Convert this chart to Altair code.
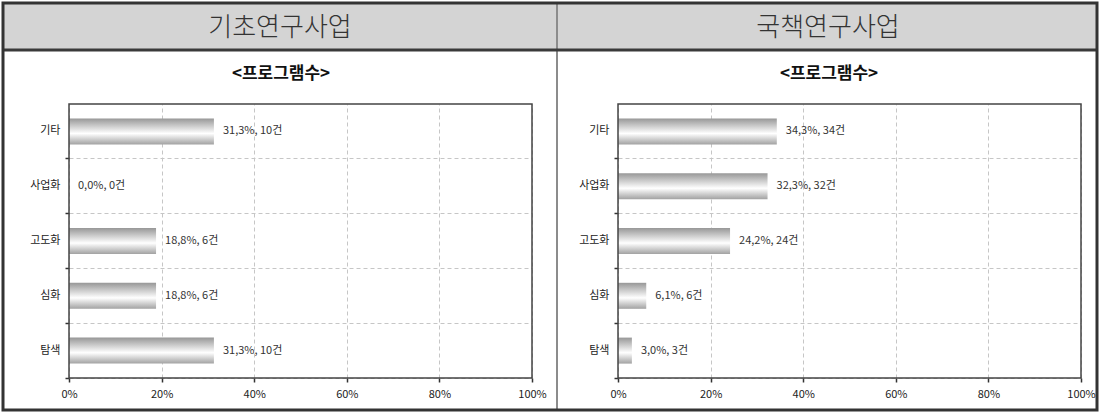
import altair as alt
import pandas as pd

# ---- data ----
categories = ["기타", "사업화", "고도화", "심화", "탐색"]
basic_pct = [31.3, 0.0, 18.8, 18.8, 31.3]
basic_cnt = [10, 0, 6, 6, 10]
policy_pct = [34.3, 32.3, 24.2, 6.1, 3.0]
policy_cnt = [34, 32, 24, 6, 3]
panel_titles = ["기초연구사업", "국책연구사업"]
subtitle = "<프로그램수>"
x_ticks = [0, 20, 40, 60, 80, 100]

# ---- layout (pixels) ----
W, H = 463, 274          # plot area of each panel
SPACING = 86             # gap between the two plot areas
OX, OY = 69, 104         # absolute origin of left plot area
FONT = "Noto Sans CJK KR"

one = alt.Data(values=[{"k": 0}])


def make_df(pct, cnt):
    return pd.DataFrame({
        "cat": categories,
        "pct": pct,
        "cnt": cnt,
        "label": [f"{p:.1f}".replace(".", ",") + f"%, {c}건" for p, c in zip(pct, cnt)],
    })


def rect(x, x2, y, y2, **kw):
    return alt.Chart(one).mark_rect(**kw).encode(
        x=alt.value(x), x2=alt.value(x2), y=alt.value(y), y2=alt.value(y2))


def txt(x, y, t, **kw):
    return alt.Chart(one).mark_text(text=t, **kw).encode(x=alt.value(x), y=alt.value(y))


gradient = alt.LinearGradient(
    gradient="linear",
    stops=[alt.GradientStop(color="#979797", offset=0),
           alt.GradientStop(color="#ffffff", offset=0.58),
           alt.GradientStop(color="#a2a2a2", offset=1)],
    x1=0, x2=0, y1=0, y2=1)


def panel(pct, cnt, title, center_rel, extra_layers):
    df = make_df(pct, cnt)
    base = alt.Chart(df)
    y_enc = alt.Y("cat:N", sort=categories,
                  scale=alt.Scale(paddingInner=0, paddingOuter=0),
                  axis=alt.Axis(title=None, bandPosition=1, grid=True,
                                gridDash=[4, 3], gridColor="#c6c6c6", gridWidth=1,
                                tickSize=4, tickColor="#333333", tickWidth=1.5,
                                labelPadding=5, labelFontSize=11, labelColor="#222222",
                                labelFont=FONT, domain=False))
    x_enc = alt.X("pct:Q", scale=alt.Scale(domain=[0, 100], nice=False),
                  axis=alt.Axis(title=None, values=x_ticks, labelExpr="datum.value + '%'",
                                grid=True, gridDash=[4, 3], gridColor="#c6c6c6", gridWidth=1,
                                tickSize=4, tickColor="#333333", tickWidth=1.5,
                                labelFlush=False, labelOverlap=False,
                                labelPadding=6, labelFontSize=11, labelColor="#222222",
                                labelFont=FONT, domain=False))
    bars = base.mark_bar(size=26, color=gradient).encode(x=x_enc, y=y_enc)
    labels = base.mark_text(align="left", baseline="middle", dx=9, fontSize=11,
                            font=FONT, color="#333333").encode(
        x="pct:Q", y=alt.Y("cat:N", sort=categories), text="label:N")
    frame = rect(0, W, 0, H, fill=None, fillOpacity=0, stroke="#444444", strokeWidth=1.5)
    head = txt(center_rel, 28 - OY, title, fontSize=26, font=FONT, fontWeight=300,
               color="#333333", align="center", baseline="middle")
    sub = txt(center_rel + 1, 74 - OY, subtitle, fontSize=17, font=FONT, fontWeight="bold",
              color="#111111", align="center", baseline="middle")
    return alt.layer(*extra_layers, bars, labels, frame, head, sub).properties(width=W, height=H)


# decorations in left panel's coordinates (relative to its plot origin)
bounds = rect(-OX, 1100 - OX, -OY, 413 - OY, fill="white", fillOpacity=0)
header_fill = rect(3 - OX, 1097 - OX, 3 - OY, 49 - OY, fill="#d4d4d4")
header_line = rect(3 - OX, 1097 - OX, 48.5 - OY, 51.5 - OY, fill="#3a3a3a")
divider = rect(556 - OX, 558 - OX, 3 - OY, 410 - OY, fill="#8c8c8c")
outer = rect(3 - OX, 1097 - OX, 3 - OY, 410 - OY, fill=None, fillOpacity=0,
             stroke="#333333", strokeWidth=3)

right_origin = OX + W + SPACING
left = panel(basic_pct, basic_cnt, panel_titles[0], 280 - OX,
             [bounds, header_fill, divider, header_line, outer])
right = panel(policy_pct, policy_cnt, panel_titles[1], 828 - right_origin, [])

chart = alt.hconcat(left, right, spacing=SPACING, bounds="flush").properties(
    padding=0, background="white"
).configure_view(stroke=None)

chart.save("out.html", embed_options={"renderer": "svg", "actions": False})
